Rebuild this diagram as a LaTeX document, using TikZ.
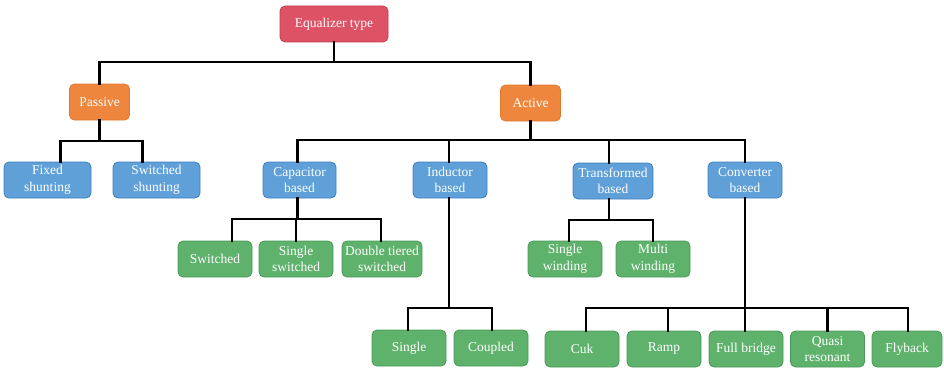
\documentclass[tikz,border=0pt]{standalone}
\usepackage{fontspec}
\setmainfont{Liberation Serif}
\usetikzlibrary{positioning}

\definecolor{rootred}{HTML}{DE5266}
\definecolor{rootedge}{HTML}{C23C52}
\definecolor{kindorange}{HTML}{EE873D}
\definecolor{kindedge}{HTML}{DD782E}
\definecolor{groupblue}{HTML}{5FA0D8}
\definecolor{groupedge}{HTML}{3F7FC0}
\definecolor{leafgreen}{HTML}{5FB26C}
\definecolor{leafedge}{HTML}{4A9858}

\tikzset{
  box/.style={rounded corners=5pt, line width=0.8pt, text=white, align=center,
    minimum height=36pt, inner sep=1pt, font=\fontsize{13.5}{16.5}\selectfont},
  rootbox/.style={box, fill=rootred, draw=rootedge, minimum width=108pt},
  kindbox/.style={box, fill=kindorange, draw=kindedge, minimum width=60pt},
  groupbox/.style={box, fill=groupblue, draw=groupedge, minimum width=74pt},
  leafbox/.style={box, fill=leafgreen, draw=leafedge, minimum width=74pt},
  link/.style={line width=2.8pt, black, line cap=rect}
}

\begin{document}
\begin{tikzpicture}[x=1pt, y=-1pt]
		%%%%% START %%%%%
		\useasboundingbox (0, 0) rectangle (944, 369);
		
		% top and second level
		\node[rootbox] (root) at (334, 24) {Equalizer type};
		\node[kindbox] (pas) at (99.5, 102) {Passive};
		\node[kindbox] (act) at (530.5, 103) {Active};
		
		% blue groups
		\node[groupbox, minimum width=87pt] (fix) at (47.5, 180) {Fixed\\shunting};
		\node[groupbox, minimum width=87pt] (swsh) at (156.5, 180) {Switched\\shunting};
		\node[groupbox, minimum width=73pt] (cap) at (299.5, 180) {Capacitor\\based};
		\node[groupbox] (ind) at (450, 180) {Inductor\\based};
		\node[groupbox, minimum width=80pt] (tra) at (613, 181) {Transformed\\based};
		\node[groupbox] (conv) at (745, 180) {Converter\\based};
		
		% green leaves
		\node[leafbox] (csw) at (215, 259) {Switched};
		\node[leafbox] (csing) at (296, 259) {Single\\switched};
		\node[leafbox, minimum width=80pt] (cdbl) at (382, 259) {Double tiered\\switched};
		\node[leafbox] (isng) at (409, 348) {Single};
		\node[leafbox] (icpl) at (491, 348) {Coupled};
		\node[leafbox] (tsng) at (565, 259) {Single\\winding};
		\node[leafbox] (tmul) at (653, 259) {Multi\\winding};
		\node[leafbox] (cuk) at (582, 349) {Cuk};
		\node[leafbox] (ramp) at (664, 349) {Ramp};
		\node[leafbox] (full) at (746, 349) {Full bridge};
		\node[leafbox] (quasi) at (827.5, 349) {Quasi\\resonant};
		\node[leafbox, minimum width=70pt] (fly) at (907, 349) {Flyback};
		
		% root branch
		\draw[link] (root.south) -- (root.south |- 0, 62);
		\draw[link] (root.south |- 0, 62) -| (pas.north);
		\draw[link] (root.south |- 0, 62) -| (act.north);
		
		% passive branch
		\draw[link] (pas.south) -- (pas.south |- 0, 141);
		\draw[link] (pas.south |- 0, 141) -| ([xshift=13pt]fix.north);
		\draw[link] (pas.south |- 0, 141) -| ([xshift=-14pt]swsh.north);
		
		% active branch
		\draw[link] (act.south) -- (act.south |- 0, 140);
		\draw[link] (act.south |- 0, 140) -| ([xshift=-2pt]cap.north);
		\draw[link] (act.south |- 0, 140) -| ([xshift=-1pt]ind.north);
		\draw[link] (act.south |- 0, 140) -| ([xshift=-4pt]tra.north);
		\draw[link] (act.south |- 0, 140) -| (conv.north);
		
		% capacitor based
		\draw[link] ([xshift=-2pt]cap.south) -- ([xshift=-2pt]cap.south |- 0, 219);
		\draw[link] ([xshift=-2pt]cap.south |- 0, 219) -| ([xshift=17pt]csw.north);
		\draw[link] ([xshift=-2pt]cap.south |- 0, 219) -| (csing.north);
		\draw[link] ([xshift=-2pt]cap.south |- 0, 219) -| ([xshift=-1pt]cdbl.north);
		
		% inductor based
		\draw[link] ([xshift=-1pt]ind.south) -- ([xshift=-1pt]ind.south |- 0, 308);
		\draw[link] ([xshift=-1pt]ind.south |- 0, 308) -| ([xshift=-1pt]isng.north);
		\draw[link] ([xshift=-1pt]ind.south |- 0, 308) -| ([xshift=1pt]icpl.north);
		
		% transformed based
		\draw[link] ([xshift=-4pt]tra.south) -- ([xshift=-4pt]tra.south |- 0, 220);
		\draw[link] ([xshift=-4pt]tra.south |- 0, 220) -| ([xshift=4pt]tsng.north);
		\draw[link] ([xshift=-4pt]tra.south |- 0, 220) -| (tmul.north);
		
		% converter based
		\draw[link] (conv.south) -- (conv.south |- 0, 308);
		\draw[link] (conv.south |- 0, 308) -| ([xshift=4pt]cuk.north);
		\draw[link] (conv.south |- 0, 308) -| ([xshift=4pt]ramp.north);
		\draw[link] (conv.south |- 0, 308) -| ([xshift=-1pt]full.north);
		\draw[link] (conv.south |- 0, 308) -| (quasi.north);
		\draw[link] (conv.south |- 0, 308) -| ([xshift=1pt]fly.north);
		%%%%% END %%%%%
\end{tikzpicture}
\end{document}
